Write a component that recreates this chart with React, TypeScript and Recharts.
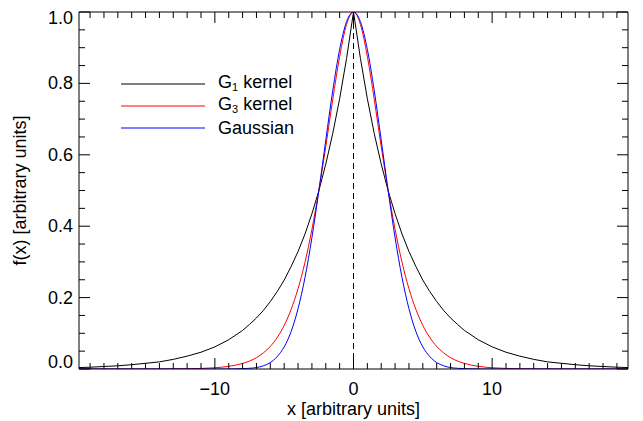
import { Legend, Line, LineChart, ReferenceLine, XAxis, YAxis } from "recharts"

const xValues = [
  -19.8, -19, -18, -17, -16, -15, -14, -13, -12, -11, -10, -9, -8, -7.5, -7, -6.5, -6, -5.5, -5, -4.5, -4, -3.5, -3,
  -2.5, -2, -1.5, -1, -0.5, 0, 0.5, 1, 1.5, 2, 2.5, 3, 3.5, 4, 4.5, 5, 5.5, 6, 6.5, 7, 7.5, 8, 9, 10, 11, 12, 13, 14,
  15, 16, 17, 18, 19, 19.8,
]

const g1Kernel = [
  0.004, 0.005, 0.007, 0.009, 0.012, 0.016, 0.02, 0.027, 0.036, 0.047, 0.062, 0.082, 0.108, 0.125, 0.143, 0.164, 0.189,
  0.217, 0.249, 0.287, 0.329, 0.378, 0.435, 0.499, 0.574, 0.659, 0.757, 0.87, 1.0, 0.87, 0.757, 0.659, 0.574, 0.499,
  0.435, 0.378, 0.329, 0.287, 0.249, 0.217, 0.189, 0.164, 0.143, 0.125, 0.108, 0.082, 0.062, 0.047, 0.036, 0.027, 0.02,
  0.016, 0.012, 0.009, 0.007, 0.005, 0.004,
]

const g3Kernel = [
  0, 0, 0, 0, 0, 0, 0, 0.0003, 0.0007, 0.0016, 0.0035, 0.0075, 0.0156, 0.0223, 0.0318, 0.0451, 0.0634, 0.0884, 0.122,
  0.167, 0.225, 0.299, 0.391, 0.5, 0.623, 0.754, 0.875, 0.965, 1.0, 0.965, 0.875, 0.754, 0.623, 0.5, 0.391, 0.299, 0.225,
  0.167, 0.122, 0.0884, 0.0634, 0.0451, 0.0318, 0.0223, 0.0156, 0.0075, 0.0035, 0.0016, 0.0007, 0.0003, 0, 0, 0, 0, 0,
  0, 0,
]

const gaussian = [
  0, 0, 0, 0, 0, 0, 0, 0, 0, 0, 0, 0, 0.001, 0.002, 0.004, 0.009, 0.018, 0.035, 0.062, 0.105, 0.169, 0.256, 0.368, 0.499,
  0.641, 0.779, 0.895, 0.973, 1.0, 0.973, 0.895, 0.779, 0.641, 0.499, 0.368, 0.256, 0.169, 0.105, 0.062, 0.035, 0.018,
  0.009, 0.004, 0.002, 0.001, 0, 0, 0, 0, 0, 0, 0, 0, 0, 0, 0, 0,
]

const xTicks = [
  -19, -18, -17, -16, -15, -14, -13, -12, -11, -10, -9, -8, -7, -6, -5, -4, -3, -2, -1, 0, 1, 2, 3, 4, 5, 6, 7, 8, 9, 10,
  11, 12, 13, 14, 15, 16, 17, 18, 19,
]
const xTickLabels = [-10, 0, 10]

const yTicks = [
  0, 0.05, 0.1, 0.15, 0.2, 0.25, 0.3, 0.35, 0.4, 0.45, 0.5, 0.55, 0.6, 0.65, 0.7, 0.75, 0.8, 0.85, 0.9, 0.95, 1.0,
]
const yTickLabels = [0, 0.2, 0.4, 0.6, 0.8, 1.0]

const legendNames = ["G", "G", "Gaussian"]
const legendSubs = ["1", "3", ""]
const legendTails = [" kernel", " kernel", ""]
const colors = ["#000000", "#ff0000", "#0000ff"]

const data = xValues.map((x, i) => ({ x, g1: g1Kernel[i], g3: g3Kernel[i], gauss: gaussian[i] }))

const FONT = "'Liberation Sans', Arial, Helvetica, sans-serif"
const XDOMAIN = [-19.8, 19.8]

const isMajorX = (v: number) => xTickLabels.some((t) => Math.abs(t - v) < 1e-6)
const isMajorY = (v: number) => yTickLabels.some((t) => Math.abs(t - v) < 1e-6)

const BottomTick = (props: any) => {
  const { x, y, payload } = props
  const major = isMajorX(payload.value)
  const label = payload.value < 0 ? `\u2212${Math.abs(payload.value)}` : `${payload.value}`
  return (
    <g>
      <line x1={x} x2={x} y1={y} y2={y - (major ? 11 : 6)} stroke="#000" />
      {major && (
        <text x={x} y={y + 26} textAnchor="middle" fontSize={18} fontFamily={FONT} fill="#000">
          {label}
        </text>
      )}
    </g>
  )
}

const TopTick = (props: any) => {
  const { x, y, payload } = props
  const major = isMajorX(payload.value)
  return <line x1={x} x2={x} y1={y} y2={y + (major ? 11 : 6)} stroke="#000" />
}

const LeftTick = (props: any) => {
  const { x, y, payload } = props
  const major = isMajorY(payload.value)
  // the end labels are kept inside the frame, as in the original
  let ty = y + 6
  if (payload.value >= 0.999) ty = y + 12
  if (payload.value <= 0.001) ty = y - 1
  return (
    <g>
      <line x1={x} x2={x + (major ? 11 : 6)} y1={y} y2={y} stroke="#000" />
      {major && (
        <text x={x - 6} y={ty} textAnchor="end" fontSize={18} fontFamily={FONT} fill="#000">
          {payload.value.toFixed(1)}
        </text>
      )}
    </g>
  )
}

const RightTick = (props: any) => {
  const { x, y, payload } = props
  const major = isMajorY(payload.value)
  return <line x1={x} x2={x - (major ? 11 : 6)} y1={y} y2={y} stroke="#000" />
}

const renderLegend = () => (
  <div style={{ fontFamily: FONT, fontSize: 18, color: "#000" }}>
    {legendNames.map((name, i) => (
      <div key={i} style={{ display: "flex", alignItems: "center", height: 22 }}>
        <svg width={84} height={22} style={{ display: "block" }}>
          <line x1={0} x2={84} y1={11} y2={11} stroke={colors[i]} strokeWidth={1} />
        </svg>
        <span style={{ marginLeft: 13, lineHeight: "22px", whiteSpace: "nowrap" }}>
          {name}
          {legendSubs[i] && <sub style={{ fontSize: 11, verticalAlign: "-3px" }}>{legendSubs[i]}</sub>}
          {legendTails[i]}
        </span>
      </div>
    ))}
  </div>
)

export default function App() {
  return (
    <div style={{ position: "absolute", left: 0, top: 0, width: 643, height: 421, background: "#fff" }}>
      <LineChart width={643} height={421} data={data} margin={{ top: 0, right: 0, bottom: 0, left: 0 }}>
        <XAxis
          dataKey="x"
          type="number"
          domain={XDOMAIN}
          allowDataOverflow
          ticks={xTicks}
          interval={0}
          height={52}
          tickSize={0}
          tickMargin={0}
          tick={BottomTick}
          axisLine={{ stroke: "#000" }}
          label={{
            value: "x [arbitrary units]",
            position: "insideBottom",
            offset: 6,
            style: { fontSize: 18, fontFamily: FONT, fill: "#000" },
          }}
        />
        <XAxis
          xAxisId="top"
          orientation="top"
          dataKey="x"
          type="number"
          domain={XDOMAIN}
          allowDataOverflow
          ticks={xTicks}
          interval={0}
          height={12}
          tickSize={0}
          tickMargin={0}
          tick={TopTick}
          axisLine={{ stroke: "#000" }}
        />
        <YAxis
          type="number"
          domain={[0, 1]}
          allowDataOverflow
          ticks={yTicks}
          interval={0}
          width={79}
          tickSize={0}
          tickMargin={0}
          tick={LeftTick}
          axisLine={{ stroke: "#000" }}
          label={{
            value: "f(x) [arbitrary units]",
            angle: -90,
            position: "insideLeft",
            offset: 20,
            style: { fontSize: 18, fontFamily: FONT, fill: "#000", textAnchor: "middle" },
          }}
        />
        <YAxis
          yAxisId="right"
          orientation="right"
          type="number"
          domain={[0, 1]}
          allowDataOverflow
          ticks={yTicks}
          interval={0}
          width={15}
          tickSize={0}
          tickMargin={0}
          tick={RightTick}
          axisLine={{ stroke: "#000" }}
        />
        <ReferenceLine
          x={0}
          segment={[
            { x: 0, y: 0 },
            { x: 0, y: 1 },
          ]}
          stroke="#000"
          strokeDasharray="6 4"
        />
        <Line type="linear" dataKey="g1" stroke={colors[0]} strokeWidth={1} dot={false} isAnimationActive={false} />
        <Line type="monotone" dataKey="g3" stroke={colors[1]} strokeWidth={1} dot={false} isAnimationActive={false} />
        <Line type="monotone" dataKey="gauss" stroke={colors[2]} strokeWidth={1} dot={false} isAnimationActive={false} />
        <Legend
          layout="vertical"
          align="center"
          verticalAlign="middle"
          content={renderLegend}
          wrapperStyle={{ left: 121, top: 73, width: 200, height: 66 }}
        />
      </LineChart>
    </div>
  )
}
